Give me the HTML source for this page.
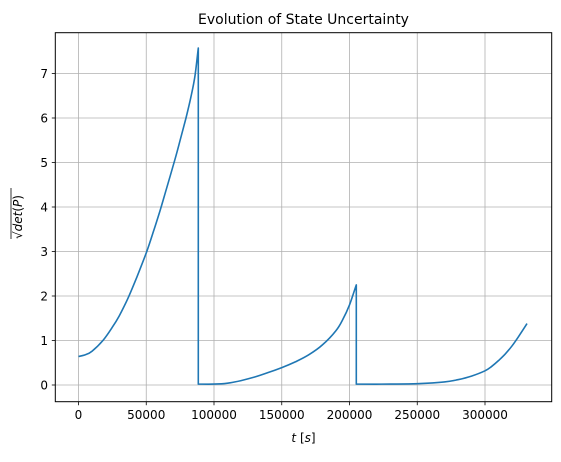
<!DOCTYPE html>
<html><head><meta charset="utf-8"><style>
body{margin:0;background:#fff}
svg text{font-family:"DejaVu Sans","Liberation Sans",sans-serif;fill:#000}
</style></head><body>
<svg id="c" width="561" height="457" xmlns="http://www.w3.org/2000/svg">
<g id="grid"></g><g id="ticks"></g>
<path id="line" fill="none" stroke="#1f77b4" stroke-width="1.6" stroke-linejoin="round"/>
<rect x="55.3" y="32.7" width="496.4" height="369" fill="none" stroke="#000" stroke-width="1"/>
<text x="303.5" y="24" font-size="14" text-anchor="middle">Evolution of State Uncertainty</text>
<text x="303.5" y="442" font-size="12" text-anchor="middle" font-style="italic">t <tspan font-style="normal">[</tspan>s<tspan font-style="normal">]</tspan></text>
<g transform="translate(22,217) rotate(-90)">
<text x="0" y="0" font-size="12" text-anchor="middle">√<tspan font-style="italic">det</tspan>(<tspan font-style="italic">P</tspan>)</text>
<line x1="-22" y1="-11" x2="29" y2="-11" stroke="#000" stroke-width="0.8"/>
</g>
</svg>
<script>
const xTicks=[0,50000,100000,150000,200000,250000,300000];
const yTicks=[0,1,2,3,4,5,6,7];
const times=[0,5000,10000,18000,25000,30000,36500,43000,50000,55000,60000,65000,71000,75000,79300,83000,86000,88400,88400,100000,110000,120000,130000,140000,150000,160000,170000,180000,190000,195000,200000,205000,205000,230000,250000,270000,280000,290000,300000,305000,310000,315000,320000,325000,331000];
const values=[0.64,0.68,0.76,1.0,1.3,1.55,1.95,2.42,2.97,3.42,3.9,4.42,5.05,5.5,6.0,6.48,6.95,7.57,0.02,0.02,0.04,0.1,0.18,0.28,0.39,0.52,0.68,0.9,1.22,1.47,1.8,2.25,0.02,0.02,0.03,0.07,0.12,0.2,0.32,0.42,0.55,0.7,0.88,1.1,1.38];
const X=v=>78.5+v*(67.75/50000);
const Y=v=>385-v*44.5;
const ns="http://www.w3.org/2000/svg";
const grid=document.getElementById('grid'),tk=document.getElementById('ticks');
function mk(tag,attrs,parent){const e=document.createElementNS(ns,tag);for(const k in attrs)e.setAttribute(k,attrs[k]);parent.appendChild(e);return e;}
xTicks.forEach(v=>{
  const g=mk('line',{x1:X(v),x2:X(v),y1:32.7,y2:401.7,stroke:'#b0b0b0','stroke-width':0.8},grid);
  
  
  mk('line',{x1:X(v),x2:X(v),y1:401.7,y2:405.2,stroke:'#000','stroke-width':0.8},tk);
  const t=mk('text',{x:X(v),y:419,'font-size':12,'text-anchor':'middle'},tk);
  t.textContent=v;
  
  
});
yTicks.forEach(v=>{
  const g=mk('line',{x1:55.3,x2:551.7,y1:Y(v),y2:Y(v),stroke:'#b0b0b0','stroke-width':0.8},grid);
  
  
  mk('line',{x1:51.8,x2:55.3,y1:Y(v),y2:Y(v),stroke:'#000','stroke-width':0.8},tk);
  const t=mk('text',{x:48,y:Y(v)+4.3,'font-size':12,'text-anchor':'end'},tk);
  t.textContent=v;
  
  
});
const pts=times.map((t,i)=>[X(t),Y(values[i])]);
const segs=[];let cur=[pts[0]];
for(let i=1;i<pts.length;i++){ if(times[i]===times[i-1]){segs.push(cur);cur=[pts[i]];} else cur.push(pts[i]); }
segs.push(cur);
let d='';
segs.forEach((s,si)=>{
  d+=(si?'L':'M')+s[0][0].toFixed(1)+','+s[0][1].toFixed(1);
  for(let i=0;i<s.length-1;i++){
    const p0=s[Math.max(0,i-1)],p1=s[i],p2=s[i+1],p3=s[Math.min(s.length-1,i+2)];
    const c1=[p1[0]+(p2[0]-p0[0])/6,p1[1]+(p2[1]-p0[1])/6];
    const c2=[p2[0]-(p3[0]-p1[0])/6,p2[1]-(p3[1]-p1[1])/6];
    d+='C'+c1[0].toFixed(1)+','+c1[1].toFixed(1)+' '+c2[0].toFixed(1)+','+c2[1].toFixed(1)+' '+p2[0].toFixed(1)+','+p2[1].toFixed(1);
  }
});
document.getElementById('line').setAttribute('d',d);
</script>
</body></html>
